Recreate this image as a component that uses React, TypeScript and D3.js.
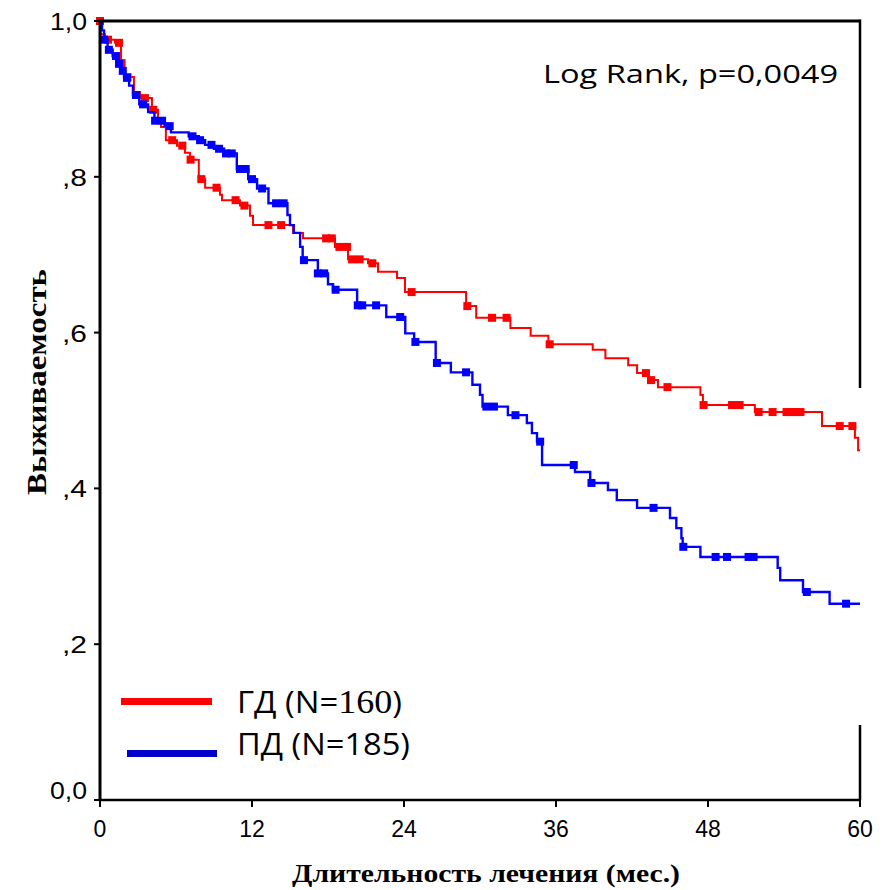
import React from "react";
import * as d3 from "d3";

// Kaplan–Meier steps: [time (months), survival after the drop]
const gdSteps: [number, number][] = [
  [0.05, 0.983], [0.39, 0.976], [1.18, 0.972], [1.66, 0.946], [1.9, 0.928], [2.68, 0.909],
  [3.16, 0.901], [4.1, 0.886], [4.58, 0.873], [4.82, 0.864], [5.2, 0.847], [6.08, 0.84],
  [6.7, 0.831], [7.1, 0.822], [7.8, 0.797], [8.3, 0.786], [9.47, 0.777], [9.63, 0.77],
  [11.05, 0.763], [11.84, 0.75], [12.08, 0.738], [15.24, 0.728], [16.03, 0.721], [18.55, 0.71],
  [19.58, 0.694], [21.16, 0.689], [21.95, 0.678], [23.45, 0.67], [24.08, 0.652], [28.9, 0.634],
  [29.7, 0.619], [32.4, 0.606], [34.0, 0.596], [35.4, 0.585], [38.9, 0.578], [39.9, 0.567],
  [41.7, 0.558], [42.4, 0.548], [43.3, 0.539], [44.05, 0.53], [47.4, 0.52], [47.6, 0.507],
  [51.7, 0.498], [57.0, 0.48], [59.6, 0.465], [59.85, 0.449],
];
const gdCensored: number[] = [
  0.0, 0.63, 1.5, 1.7, 2.17, 3.55, 4.2, 5.7, 6.5, 7.15, 8.0, 9.2, 10.7, 11.4, 13.3, 14.3,
  17.85, 18.3, 18.9, 19.5, 19.9, 20.5, 21.5, 24.6, 29.0, 30.95, 32.1, 35.5, 43.1, 43.5, 44.8,
  47.65, 49.9, 50.5, 52.0, 53.1, 54.2, 54.6, 55.0, 55.3, 58.4, 59.4,
];

const pdSteps: [number, number][] = [
  [0.16, 0.988], [0.32, 0.976], [0.6, 0.963], [1.0, 0.955], [1.3, 0.945], [1.6, 0.936],
  [1.9, 0.927], [2.3, 0.917], [2.6, 0.905], [3.1, 0.893], [3.8, 0.883], [4.3, 0.872],
  [5.1, 0.865], [5.6, 0.857], [7.0, 0.852], [7.8, 0.847], [8.3, 0.841], [9.0, 0.836],
  [9.8, 0.83], [10.8, 0.81], [11.7, 0.797], [12.4, 0.785], [13.3, 0.766], [14.8, 0.751],
  [15.0, 0.738], [15.3, 0.728], [15.8, 0.71], [16.0, 0.693], [17.2, 0.676], [18.0, 0.662],
  [18.4, 0.655], [20.3, 0.635], [22.6, 0.62], [24.1, 0.599], [24.8, 0.588], [26.5, 0.561],
  [27.7, 0.549], [29.4, 0.533], [30.0, 0.52], [30.2, 0.505], [32.2, 0.494], [33.7, 0.484],
  [34.1, 0.471], [34.5, 0.46], [34.9, 0.43], [37.5, 0.421], [38.7, 0.407], [40.1, 0.398],
  [40.8, 0.385], [42.4, 0.375], [45.0, 0.362], [45.5, 0.349], [45.9, 0.336], [46.0, 0.325],
  [47.4, 0.312], [53.5, 0.298], [53.7, 0.282], [55.5, 0.267], [57.6, 0.252],
];
const pdCensored: number[] = [
  0.32, 0.7, 1.26, 1.5, 1.8, 2.13, 2.84, 3.4, 4.35, 4.9, 5.5, 7.3, 7.9, 8.8, 9.4, 9.95, 10.4,
  11.05, 11.5, 12.0, 12.8, 13.9, 14.5, 16.1, 17.2, 17.7, 18.6, 20.35, 20.7, 21.8, 23.7, 24.9,
  26.6, 28.9, 30.5, 31.1, 32.8, 34.75, 37.4, 38.8, 43.7, 46.05, 48.6, 49.5, 51.2, 51.6, 55.8, 58.9,
];

const xTicks = [0, 12, 24, 36, 48, 60];
const yTicks = [0, 0.2, 0.4, 0.6, 0.8, 1.0];
const yTickLabels = ["0,0", ",2", ",4", ",6", ",8", "1,0"];

const W = 889;
const H = 890;

const x = d3.scaleLinear().domain([0, 60]).range([100, 860]);
const y = d3.scaleLinear().domain([0, 1]).range([800, 21]);

function fullSteps(steps: [number, number][]): [number, number][] {
  const pts: [number, number][] = [[0, 1], ...steps];
  pts.push([60, steps[steps.length - 1][1]]);
  return pts;
}

function survAt(steps: [number, number][], t: number): number {
  let s = 1;
  for (const [tt, v] of steps) {
    if (tt <= t) s = v;
    else break;
  }
  return s;
}

const line = d3
  .line<[number, number]>()
  .x((d) => x(d[0]))
  .y((d) => y(d[1]))
  .curve(d3.curveStepAfter);

export default function App() {
  const series = [
    { steps: gdSteps, cens: gdCensored, color: "#ff0000", width: 2 },
    { steps: pdSteps, cens: pdCensored, color: "#0000ff", width: 2.4 },
  ];
  const sq = 8;
  return (
    <svg
      width={W}
      height={H}
      style={{ position: "absolute", left: 0, top: 0, background: "#fff" }}
    >
      <rect x={0} y={0} width={W} height={H} fill="#fff" />
      {series.map((s, i) => (
        <g key={i}>
          <path d={line(fullSteps(s.steps)) || ""} fill="none" stroke={s.color} strokeWidth={s.width} />
          {s.cens.map((t, j) => (
            <rect
              key={j}
              x={x(t) - sq / 2}
              y={y(survAt(s.steps, t)) - sq / 2}
              width={sq}
              height={sq}
              fill={s.color}
            />
          ))}
        </g>
      ))}
      {/* frame */}
      <line x1={x(0)} x2={x(60)} y1={y(1)} y2={y(1)} stroke="#000" strokeWidth={3} />
      <line x1={x(0)} x2={x(0)} y1={y(1) - 1.5} y2={y(0)} stroke="#000" strokeWidth={3} />
      <line x1={x(0) - 1.5} x2={x(60) + 1} y1={y(0)} y2={y(0)} stroke="#000" strokeWidth={2.5} />
      <line x1={x(60)} x2={x(60)} y1={y(1) - 1.5} y2={388} stroke="#000" strokeWidth={2.5} />
      <line x1={x(60)} x2={x(60)} y1={725} y2={y(0)} stroke="#000" strokeWidth={2.5} />
      {/* y ticks */}
      {yTicks.map((v, i) => (
        <g key={i}>
          <line x1={x(0) - 6} x2={x(0)} y1={y(v)} y2={y(v)} stroke="#000" strokeWidth={2} />
          <text
            x={87}
            y={v === 0 ? y(v) - 9 : y(v) + 1}
            dy="0.35em"
            textAnchor="end"
            fontFamily="Liberation Sans, Arial, sans-serif"
            fontSize={23}
            textLength={yTickLabels[i].length === 3 ? 37 : 25}
            lengthAdjust="spacingAndGlyphs"
            fill="#000"
          >
            {yTickLabels[i]}
          </text>
        </g>
      ))}
      {/* x ticks */}
      {xTicks.map((v, i) => (
        <g key={i}>
          <line x1={x(v)} x2={x(v)} y1={y(0)} y2={y(0) + 7} stroke="#000" strokeWidth={2} />
          <text
            x={x(v)}
            y={837}
            textAnchor="middle"
            fontFamily="Liberation Sans, Arial, sans-serif"
            fontSize={23}
            fill="#000"
          >
            {v}
          </text>
        </g>
      ))}
      {/* axis titles */}
      <text
        transform="translate(46,382) rotate(-90)"
        textAnchor="middle"
        fontFamily="Liberation Serif, Times New Roman, serif"
        fontWeight="bold"
        fontSize={27}
        textLength={226}
        lengthAdjust="spacingAndGlyphs"
        fill="#000"
      >
        Выживаемость
      </text>
      <text
        x={486}
        y={882}
        textAnchor="middle"
        fontFamily="Liberation Serif, Times New Roman, serif"
        fontWeight="bold"
        fontSize={26}
        textLength={388}
        lengthAdjust="spacingAndGlyphs"
        fill="#000"
      >
        Длительность лечения (мес.)
      </text>
      {/* log rank */}
      <text
        x={543}
        y={83}
        fontFamily="Open Sans, Noto Sans, sans-serif"
        fontSize={26}
        textLength={295}
        lengthAdjust="spacingAndGlyphs"
        fill="#000"
      >
        Log Rank, p=0,0049
      </text>
      {/* legend */}
      <line x1={121} x2={212} y1={701.5} y2={701.5} stroke="#ff0000" strokeWidth={7} />
      <line x1={127} x2={217} y1={753.5} y2={753.5} stroke="#0000cc" strokeWidth={7} />
      <text
        x={237}
        y={713}
        fontFamily="Open Sans, Noto Sans, sans-serif"
        fontSize={31}
        textLength={165}
        lengthAdjust="spacingAndGlyphs"
        fill="#000"
      >
        ГД (N=<tspan fontFamily="Liberation Serif, Times New Roman, serif" fontSize={34}>160</tspan>)
      </text>
      <text
        x={237}
        y={755}
        fontFamily="Open Sans, Noto Sans, sans-serif"
        fontSize={31}
        textLength={173}
        lengthAdjust="spacingAndGlyphs"
        fill="#000"
      >
        ПД (N=185)
      </text>
    </svg>
  );
}
